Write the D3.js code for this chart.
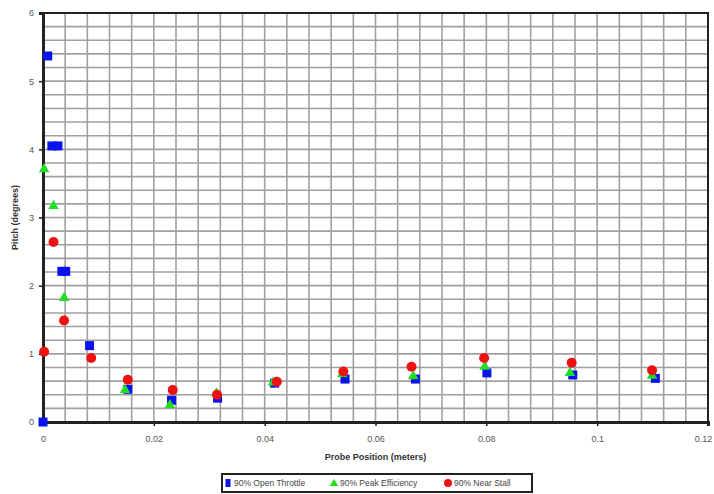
<!DOCTYPE html>
<html>
<head>
<meta charset="utf-8">
<script src="https://cdn.jsdelivr.net/npm/d3@7"></script>
<style>
  html, body { margin: 0; padding: 0; background: #fff; }
  svg { display: block; font-family: "Liberation Sans", Arial, sans-serif; }
</style>
</head>
<body>
<svg id="chart" width="714" height="494"></svg>
<script>
// ---- data ----
const openThrottleX = [0, 0.00085, 0.0016, 0.0027, 0.0034, 0.0041, 0.0084, 0.0153, 0.0232, 0.0315, 0.0418, 0.0545, 0.0672, 0.0801, 0.0956, 0.1105];
const openThrottleY = [0, 5.37, 4.05, 4.05, 2.21, 2.21, 1.12, 0.48, 0.32, 0.35, 0.57, 0.63, 0.63, 0.72, 0.69, 0.64];

const peakEffX = [0.0002, 0.0019, 0.0038, 0.0148, 0.0229, 0.0313, 0.0415, 0.0540, 0.0668, 0.0797, 0.0951, 0.1099];
const peakEffY = [3.71, 3.17, 1.82, 0.47, 0.25, 0.42, 0.58, 0.70, 0.67, 0.81, 0.72, 0.68];

const nearStallX = [0.0002, 0.0019, 0.0038, 0.0087, 0.0153, 0.0234, 0.0314, 0.0422, 0.0542, 0.0665, 0.0796, 0.0954, 0.1099];
const nearStallY = [1.03, 2.64, 1.49, 0.94, 0.62, 0.47, 0.40, 0.59, 0.74, 0.81, 0.94, 0.87, 0.76];

const seriesNames = ["90% Open Throttle", "90% Peak Efficiency", "90% Near Stall"];
const seriesColors = ["#0a12ee", "#22dd22", "#ee1111"];
const xTicks = [0, 0.02, 0.04, 0.06, 0.08, 0.1, 0.12];
const yTicks = [0, 1, 2, 3, 4, 5, 6];
const xTitle = "Probe Position (meters)";
const yTitle = "Pitch (degrees)";

// ---- layout ----
const svg = d3.select("#chart");
const L = 43, R = 708, T = 13, B = 422;
const x = d3.scaleLinear().domain([0, 0.12]).range([L, R]);
const y = d3.scaleLinear().domain([0, 6]).range([B, T]);

// grid
const g = svg.append("g");
g.selectAll("line.vg").data(d3.range(1, 30).map(i => i * 0.004)).enter().append("line")
  .attr("x1", d => x(d)).attr("x2", d => x(d)).attr("y1", T).attr("y2", B)
  .attr("stroke", "#a0a0a0").attr("stroke-width", 1.6);
g.selectAll("line.hg").data(d3.range(1, 30).map(i => i * 0.2)).enter().append("line")
  .attr("y1", d => y(d)).attr("y2", d => y(d)).attr("x1", L).attr("x2", R)
  .attr("stroke", "#a0a0a0").attr("stroke-width", 1.6);

// plot border
svg.append("rect").attr("x", L).attr("y", T).attr("width", R - L).attr("height", B - T)
  .attr("fill", "none").attr("stroke", "#222").attr("stroke-width", 2);

// axes
const xAxis = d3.axisBottom(x).tickValues(xTicks).tickSize(4).tickPadding(10).tickFormat(d => d3.format("~g")(d));
const yAxis = d3.axisLeft(y).tickValues(yTicks).tickSize(4).tickPadding(5).tickFormat(d3.format("d"));
const gx = svg.append("g").attr("transform", `translate(0,${B})`).call(xAxis);
const gy = svg.append("g").attr("transform", `translate(${L},0)`).call(yAxis);
[gx, gy].forEach(a => {
  a.select(".domain").attr("stroke", "#222").attr("stroke-width", 3);
  a.selectAll(".tick line").attr("stroke", "#222").attr("stroke-width", 1.5);
  a.selectAll(".tick text").attr("fill", "#555").attr("font-size", 9)
    .attr("font-family", "'Liberation Sans', Arial, sans-serif");
});
// keep the last x label inside the picture
gx.selectAll(".tick text").filter(d => d === 0.12).attr("dx", -5);

// axis titles
svg.append("text").attr("x", (L + R) / 2).attr("y", 460).attr("text-anchor", "middle")
  .attr("font-size", 9).attr("font-weight", "bold").attr("fill", "#333").text(xTitle);
svg.append("text").attr("transform", `translate(18,${(T + B) / 2}) rotate(-90)`).attr("text-anchor", "middle")
  .attr("font-size", 9).attr("font-weight", "bold").attr("fill", "#333").text(yTitle);

// markers
const blue = openThrottleX.map((d, i) => [d, openThrottleY[i]]);
const green = peakEffX.map((d, i) => [d, peakEffY[i]]);
const red = nearStallX.map((d, i) => [d, nearStallY[i]]);

svg.append("g").selectAll("rect").data(blue).enter().append("rect")
  .attr("x", d => x(d[0]) - 4.5).attr("y", d => y(d[1]) - 4.5)
  .attr("width", 9).attr("height", 9).attr("fill", seriesColors[0]);

const tri = d3.symbol().type(d3.symbolTriangle).size(48);
svg.append("g").selectAll("path").data(green).enter().append("path")
  .attr("d", tri).attr("transform", d => `translate(${x(d[0])},${y(d[1])})`)
  .attr("fill", seriesColors[1]);

svg.append("g").selectAll("circle").data(red).enter().append("circle")
  .attr("cx", d => x(d[0])).attr("cy", d => y(d[1])).attr("r", 5)
  .attr("fill", seriesColors[2]);

// legend
const lg = svg.append("g");
lg.append("rect").attr("x", 222).attr("y", 474).attr("width", 310).attr("height", 18)
  .attr("fill", "#fff").attr("stroke", "#222").attr("stroke-width", 2);
const legX = [228, 334, 448];
lg.append("rect").attr("x", legX[0] - 2.5).attr("y", 479).attr("width", 5).attr("height", 8).attr("fill", seriesColors[0]);
lg.append("path").attr("d", d3.symbol().type(d3.symbolTriangle).size(30))
  .attr("transform", `translate(${legX[1]},483.5)`).attr("fill", seriesColors[1]);
lg.append("circle").attr("cx", legX[2]).attr("cy", 483).attr("r", 4).attr("fill", seriesColors[2]);
seriesNames.forEach((n, i) => {
  lg.append("text").attr("x", legX[i] + 6).attr("y", 486).attr("font-size", 8.5)
    .attr("fill", "#444").text(n);
});
</script>
</body>
</html>
